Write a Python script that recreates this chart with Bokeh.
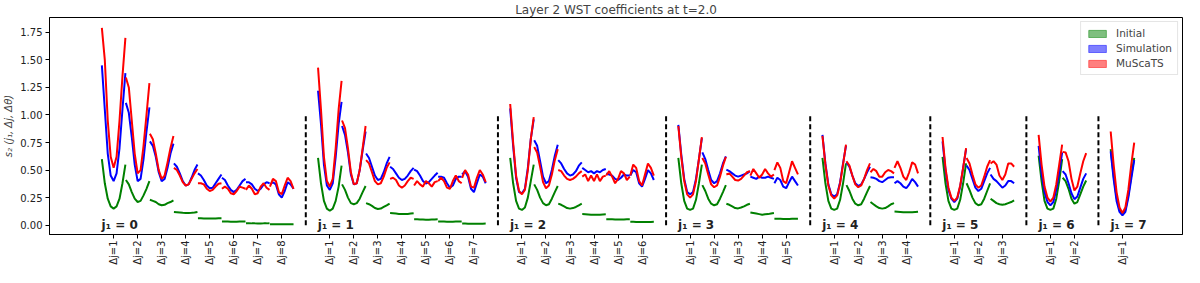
import math
import numpy as np
from bokeh.plotting import figure
from bokeh.models import (FixedTicker, NumeralTickFormatter, Legend, LegendItem,
                          Range1d, ColumnDataSource)
from bokeh.embed import file_html
from bokeh.resources import INLINE
from bokeh.core.properties import value

# ---------------- data ----------------
title_text = "Layer 2 WST coefficients at t=2.0"
y_label = "s\u2082 (j\u2081, \u0394j, \u0394\u03b8)"
j1_values = [0, 1, 2, 3, 4, 5, 6, 7]
n_dj = [8, 7, 6, 5, 4, 3, 2, 1]
series_names = ["Initial", "Simulation", "MuScaTS"]
series_colors = ["green", "blue", "red"]
y_ticks = [0.0, 0.25, 0.5, 0.75, 1.0, 1.25, 1.5, 1.75]

# 9 values per (j1, dj) segment, ordered j1=0 dj=1..8, j1=1 dj=1..7, ...
initial = [
    # j1=0
    [0.60, 0.38, 0.24, 0.17, 0.15, 0.17, 0.24, 0.38, 0.55],
    [0.41, 0.37, 0.30, 0.24, 0.21, 0.22, 0.27, 0.33, 0.40],
    [0.23, 0.22, 0.21, 0.19, 0.18, 0.185, 0.20, 0.21, 0.225],
    [0.12, 0.118, 0.115, 0.112, 0.11, 0.11, 0.112, 0.115, 0.12],
    [0.062, 0.062, 0.061, 0.06, 0.06, 0.06, 0.061, 0.062, 0.062],
    [0.033, 0.033, 0.032, 0.031, 0.031, 0.031, 0.032, 0.032, 0.033],
    [0.017, 0.017, 0.016, 0.016, 0.015, 0.015, 0.016, 0.016, 0.017],
    [0.009, 0.009, 0.008, 0.008, 0.008, 0.008, 0.008, 0.008, 0.009],
    # j1=1
    [0.61, 0.38, 0.22, 0.15, 0.13, 0.15, 0.22, 0.35, 0.54],
    [0.37, 0.32, 0.25, 0.20, 0.19, 0.20, 0.24, 0.30, 0.355],
    [0.20, 0.19, 0.175, 0.155, 0.147, 0.15, 0.165, 0.18, 0.196],
    [0.11, 0.108, 0.105, 0.102, 0.10, 0.10, 0.102, 0.105, 0.108],
    [0.053, 0.053, 0.052, 0.051, 0.05, 0.05, 0.051, 0.052, 0.053],
    [0.033, 0.033, 0.032, 0.031, 0.031, 0.031, 0.032, 0.032, 0.033],
    [0.014, 0.014, 0.013, 0.013, 0.012, 0.012, 0.013, 0.013, 0.014],
    # j1=2
    [0.61, 0.38, 0.22, 0.15, 0.138, 0.16, 0.25, 0.40, 0.55],
    [0.37, 0.32, 0.25, 0.20, 0.18, 0.19, 0.24, 0.30, 0.355],
    [0.195, 0.185, 0.17, 0.155, 0.15, 0.155, 0.165, 0.18, 0.195],
    [0.10, 0.099, 0.097, 0.095, 0.094, 0.094, 0.095, 0.097, 0.099],
    [0.054, 0.054, 0.053, 0.052, 0.051, 0.051, 0.052, 0.053, 0.054],
    [0.03, 0.03, 0.029, 0.028, 0.028, 0.028, 0.029, 0.029, 0.03],
    # j1=3
    [0.61, 0.38, 0.22, 0.15, 0.138, 0.15, 0.23, 0.38, 0.55],
    [0.363, 0.31, 0.24, 0.195, 0.18, 0.19, 0.24, 0.30, 0.363],
    [0.194, 0.185, 0.17, 0.155, 0.152, 0.16, 0.17, 0.185, 0.194],
    [0.115, 0.11, 0.105, 0.10, 0.095, 0.098, 0.10, 0.105, 0.11],
    [0.058, 0.058, 0.057, 0.056, 0.056, 0.056, 0.057, 0.057, 0.058],
    # j1=4
    [0.61, 0.38, 0.22, 0.15, 0.138, 0.15, 0.23, 0.38, 0.56],
    [0.363, 0.31, 0.24, 0.195, 0.18, 0.19, 0.24, 0.30, 0.355],
    [0.21, 0.19, 0.17, 0.155, 0.15, 0.155, 0.17, 0.19, 0.20],
    [0.124, 0.122, 0.12, 0.118, 0.117, 0.117, 0.118, 0.12, 0.122],
    # j1=5
    [0.62, 0.38, 0.22, 0.15, 0.138, 0.15, 0.23, 0.38, 0.56],
    [0.38, 0.32, 0.25, 0.20, 0.18, 0.19, 0.24, 0.31, 0.38],
    [0.24, 0.22, 0.20, 0.19, 0.185, 0.19, 0.20, 0.21, 0.225],
    # j1=6
    [0.63, 0.40, 0.22, 0.15, 0.138, 0.15, 0.24, 0.40, 0.60],
    [0.43, 0.40, 0.33, 0.24, 0.195, 0.21, 0.28, 0.35, 0.405],
    # j1=7
    [0.69, 0.45, 0.25, 0.14, 0.11, 0.14, 0.27, 0.45, 0.61],
]

simulation = [
    # j1=0
    [1.45, 1.05, 0.65, 0.45, 0.40, 0.47, 0.70, 1.05, 1.38],
    [1.11, 1.02, 0.80, 0.55, 0.40, 0.42, 0.60, 0.85, 1.07],
    [0.76, 0.72, 0.62, 0.48, 0.40, 0.42, 0.52, 0.65, 0.74],
    [0.56, 0.53, 0.47, 0.40, 0.36, 0.37, 0.43, 0.50, 0.55],
    [0.47, 0.45, 0.41, 0.36, 0.335, 0.34, 0.38, 0.42, 0.46],
    [0.43, 0.41, 0.36, 0.32, 0.30, 0.32, 0.36, 0.40, 0.42],
    [0.39, 0.39, 0.37, 0.33, 0.31, 0.33, 0.37, 0.39, 0.38],
    [0.37, 0.39, 0.37, 0.28, 0.25, 0.31, 0.39, 0.37, 0.33],
    # j1=1
    [1.22, 0.92, 0.55, 0.36, 0.32, 0.38, 0.62, 0.92, 1.12],
    [0.90, 0.82, 0.66, 0.46, 0.37, 0.38, 0.50, 0.68, 0.85],
    [0.65, 0.61, 0.53, 0.45, 0.41, 0.42, 0.48, 0.56, 0.62],
    [0.53, 0.51, 0.47, 0.43, 0.41, 0.42, 0.45, 0.49, 0.52],
    [0.505, 0.49, 0.45, 0.40, 0.378, 0.39, 0.42, 0.45, 0.476],
    [0.44, 0.44, 0.43, 0.38, 0.34, 0.36, 0.42, 0.44, 0.44],
    [0.46, 0.49, 0.44, 0.33, 0.30, 0.38, 0.46, 0.44, 0.38],
    # j1=2
    [1.06, 0.72, 0.43, 0.30, 0.29, 0.33, 0.52, 0.78, 0.96],
    [0.77, 0.72, 0.58, 0.44, 0.38, 0.40, 0.50, 0.63, 0.73],
    [0.59, 0.56, 0.51, 0.47, 0.45, 0.46, 0.49, 0.54, 0.57],
    [0.52, 0.50, 0.48, 0.49, 0.47, 0.49, 0.48, 0.50, 0.51],
    [0.47, 0.46, 0.45, 0.42, 0.41, 0.43, 0.46, 0.45, 0.45],
    [0.45, 0.50, 0.48, 0.38, 0.35, 0.42, 0.50, 0.47, 0.41],
    # j1=3
    [0.91, 0.64, 0.42, 0.30, 0.28, 0.30, 0.42, 0.60, 0.79],
    [0.66, 0.60, 0.50, 0.41, 0.38, 0.40, 0.47, 0.56, 0.625],
    [0.505, 0.49, 0.47, 0.45, 0.44, 0.45, 0.46, 0.47, 0.49],
    [0.44, 0.43, 0.42, 0.44, 0.43, 0.43, 0.44, 0.43, 0.42],
    [0.38, 0.43, 0.41, 0.35, 0.335, 0.39, 0.44, 0.40, 0.36],
    # j1=4
    [0.82, 0.56, 0.37, 0.28, 0.26, 0.28, 0.39, 0.56, 0.72],
    [0.57, 0.53, 0.45, 0.38, 0.355, 0.37, 0.42, 0.48, 0.53],
    [0.435, 0.43, 0.42, 0.40, 0.39, 0.41, 0.43, 0.435, 0.435],
    [0.38, 0.40, 0.38, 0.35, 0.335, 0.37, 0.42, 0.39, 0.35],
    # j1=5
    [0.76, 0.50, 0.32, 0.24, 0.21, 0.24, 0.35, 0.52, 0.69],
    [0.54, 0.50, 0.42, 0.34, 0.31, 0.33, 0.40, 0.47, 0.52],
    [0.46, 0.42, 0.40, 0.37, 0.34, 0.36, 0.40, 0.40, 0.38],
    # j1=6
    [0.72, 0.47, 0.30, 0.21, 0.18, 0.21, 0.32, 0.48, 0.66],
    [0.49, 0.46, 0.38, 0.29, 0.236, 0.26, 0.34, 0.42, 0.47],
    # j1=7
    [0.67, 0.42, 0.22, 0.12, 0.09, 0.12, 0.25, 0.42, 0.59],
]

muscats = [
    # j1=0
    [1.79, 1.50, 0.95, 0.62, 0.52, 0.62, 0.95, 1.35, 1.70],
    [1.34, 1.25, 0.95, 0.65, 0.47, 0.50, 0.72, 1.00, 1.29],
    [0.83, 0.78, 0.65, 0.50, 0.42, 0.45, 0.57, 0.70, 0.81],
    [0.52, 0.50, 0.45, 0.39, 0.36, 0.37, 0.42, 0.47, 0.51],
    [0.38, 0.38, 0.37, 0.33, 0.31, 0.32, 0.35, 0.375, 0.38],
    [0.33, 0.35, 0.33, 0.29, 0.28, 0.31, 0.35, 0.34, 0.33],
    [0.32, 0.36, 0.33, 0.28, 0.29, 0.35, 0.38, 0.34, 0.32],
    [0.35, 0.42, 0.40, 0.30, 0.28, 0.36, 0.43, 0.40, 0.33],
    # j1=1
    [1.43, 1.05, 0.62, 0.40, 0.35, 0.42, 0.70, 1.05, 1.31],
    [0.95, 0.88, 0.70, 0.48, 0.37, 0.38, 0.50, 0.70, 0.90],
    [0.59, 0.56, 0.48, 0.40, 0.37, 0.38, 0.44, 0.52, 0.57],
    [0.42, 0.43, 0.41, 0.36, 0.34, 0.36, 0.40, 0.43, 0.42],
    [0.36, 0.40, 0.37, 0.35, 0.40, 0.38, 0.35, 0.39, 0.40],
    [0.40, 0.43, 0.40, 0.34, 0.33, 0.40, 0.45, 0.40, 0.38],
    [0.43, 0.50, 0.46, 0.35, 0.34, 0.43, 0.50, 0.46, 0.39],
    # j1=2
    [1.10, 0.75, 0.45, 0.31, 0.28, 0.32, 0.50, 0.78, 0.98],
    [0.71, 0.66, 0.53, 0.39, 0.335, 0.36, 0.46, 0.59, 0.69],
    [0.50, 0.49, 0.45, 0.42, 0.41, 0.42, 0.44, 0.47, 0.49],
    [0.44, 0.46, 0.40, 0.45, 0.40, 0.46, 0.40, 0.44, 0.45],
    [0.45, 0.49, 0.44, 0.38, 0.42, 0.49, 0.47, 0.41, 0.44],
    [0.45, 0.55, 0.52, 0.40, 0.36, 0.46, 0.56, 0.52, 0.45],
    # j1=3
    [0.90, 0.62, 0.40, 0.28, 0.25, 0.28, 0.40, 0.60, 0.80],
    [0.61, 0.56, 0.46, 0.37, 0.344, 0.36, 0.44, 0.54, 0.62],
    [0.46, 0.47, 0.44, 0.41, 0.405, 0.42, 0.45, 0.48, 0.49],
    [0.45, 0.51, 0.47, 0.43, 0.46, 0.51, 0.47, 0.44, 0.46],
    [0.50, 0.57, 0.52, 0.40, 0.38, 0.48, 0.58, 0.52, 0.46],
    # j1=4
    [0.81, 0.55, 0.36, 0.27, 0.24, 0.27, 0.38, 0.55, 0.73],
    [0.58, 0.54, 0.45, 0.37, 0.344, 0.36, 0.42, 0.50, 0.56],
    [0.48, 0.51, 0.49, 0.44, 0.44, 0.48, 0.50, 0.49, 0.47],
    [0.52, 0.58, 0.52, 0.44, 0.41, 0.48, 0.57, 0.55, 0.47],
    # j1=5
    [0.80, 0.52, 0.34, 0.25, 0.22, 0.25, 0.36, 0.52, 0.70],
    [0.61, 0.56, 0.46, 0.37, 0.34, 0.36, 0.44, 0.53, 0.59],
    [0.56, 0.58, 0.55, 0.45, 0.41, 0.46, 0.56, 0.56, 0.53],
    # j1=6
    [0.82, 0.55, 0.35, 0.25, 0.214, 0.25, 0.37, 0.55, 0.73],
    [0.665, 0.66, 0.58, 0.42, 0.315, 0.35, 0.47, 0.58, 0.654],
    # j1=7
    [0.85, 0.55, 0.30, 0.16, 0.11, 0.16, 0.32, 0.55, 0.75],
]

# ---------------- layout of the categorical axis ----------------
seg_pos, tick_pos, tick_labels, sep_pos, group_start = [], [], {}, [], []
pos = 0
for g, n in zip(j1_values, n_dj):
    if g > 0:
        sep_pos.append(pos)
        pos += 1
    group_start.append(pos)
    for dj in range(1, n + 1):
        seg_pos.append(pos)
        tick_pos.append(pos)
        tick_labels[pos] = "\u0394j=%d" % dj
        pos += 1

n_theta = len(initial[0])
theta_off = (np.arange(n_theta) / (n_theta - 1) - 0.5) * 0.98

FONT = "DejaVu Sans"
p = figure(width=1184, height=267, output_backend="svg", toolbar_location=None,
           x_range=Range1d(-2.67, 44.5), y_range=Range1d(-0.085, 1.885),
           min_border_left=0, min_border_right=2, min_border_top=0, min_border_bottom=0)
p.title.text = title_text
p.title.align = "center"
p.title.text_font = FONT
p.title.text_font_size = "12px"
p.title.text_font_style = "normal"
p.title.standoff = 1

p.xgrid.visible = False
p.ygrid.visible = False
p.outline_line_color = "black"
p.outline_line_alpha = 1.0
p.background_fill_color = "white"
p.border_fill_color = "white"

for ax in (p.xaxis[0], p.yaxis[0]):
    ax.axis_line_color = "black"
    ax.major_tick_line_color = "black"
    ax.major_tick_out = 4
    ax.major_tick_in = 0
    ax.minor_tick_line_color = None
    ax.major_label_text_font = FONT
    ax.major_label_text_font_size = "10px"
    ax.major_label_text_color = "#222222"

p.xaxis.ticker = FixedTicker(ticks=tick_pos)
p.xaxis.major_label_overrides = tick_labels
p.xaxis.major_label_orientation = math.pi / 2
p.xaxis.major_label_standoff = 2

p.yaxis.ticker = FixedTicker(ticks=y_ticks)
p.yaxis.formatter = NumeralTickFormatter(format="0.00")
p.yaxis.major_label_standoff = 3
p.yaxis.axis_label = y_label
p.yaxis.axis_label_text_font = FONT
p.yaxis.axis_label_text_font_size = "10px"
p.yaxis.axis_label_text_font_style = "italic"
p.yaxis.axis_label_standoff = 3

# separators
p.multi_line(xs=[[s, s] for s in sep_pos], ys=[[0.0, 1.0] for _ in sep_pos],
             line_color="black", line_width=2, line_dash="5 3")

# curves
for data, col in zip([initial, simulation, muscats], series_colors):
    xs = [list(sp + theta_off) for sp in seg_pos]
    ys = [list(v) for v in data]
    p.multi_line(xs=xs, ys=ys, line_color=col, line_width=2)

# j1 labels
p.text(x=[gs - 0.5 for gs in group_start], y=[0.0] * len(group_start),
       text=["j\u2081 = %d" % g for g in j1_values],
       text_font=value(FONT), text_font_size=value("12px"), text_font_style="bold",
       text_color="#222222", text_baseline="alphabetic", text_align="left")

# legend (patch style); one placeholder row of NaN so the glyph has an index 0
items = []
for name, col in zip(series_names, series_colors):
    src = ColumnDataSource(dict(l=[np.nan], r=[np.nan], t=[np.nan], b=[np.nan]))
    r = p.quad(left="l", right="r", top="t", bottom="b", source=src,
               fill_color=col, fill_alpha=0.5, line_color=col, line_alpha=0.5)
    items.append(LegendItem(label=name, renderers=[r]))
legend = Legend(items=items, location="top_right")
legend.label_text_font = FONT
legend.label_text_font_size = "10.5px"
legend.glyph_width = 22
legend.glyph_height = 9
legend.label_standoff = 8
legend.spacing = 3
legend.padding = 5
legend.margin = 4
legend.border_line_color = "#cccccc"
legend.border_line_width = 1
legend.background_fill_alpha = 0.9
p.add_layout(legend)

open("out.html", "w").write(file_html(p, INLINE))
